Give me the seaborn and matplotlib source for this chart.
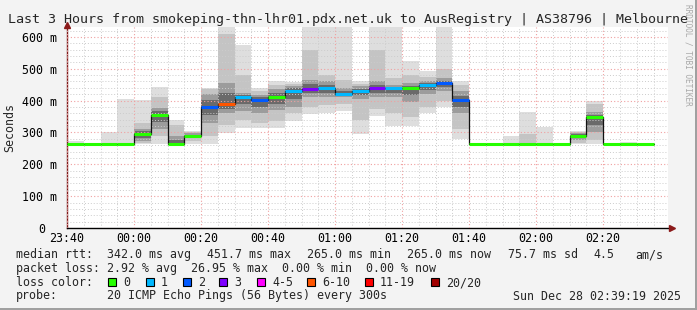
import matplotlib
matplotlib.use("Agg")
import matplotlib.pyplot as plt
import matplotlib.transforms as mtransforms
import seaborn as sns
import pandas as pd
from matplotlib.patches import Rectangle

# ---------------- data ----------------
# bin start, minutes after 23:40 (5-minute steps)
bin_start = [0, 5, 10, 15, 20, 25, 30, 35, 40, 45, 50, 55, 60, 65, 70, 75, 80, 85,
             90, 95, 100, 105, 110, 115, 120, 125, 130, 135, 140, 145, 150, 155,
             160, 165, 170]
median_ms = [265, 265, 265, 265, 295, 355, 265, 290, 381, 390, 410, 402, 410, 431,
             437, 438, 421, 429, 439, 438, 438, 448, 455, 401, 265, 265, 265, 265,
             265, 265, 290, 347, 265, 265, 265]
smoke_min = [265, 265, 265, 265, 265, 265, 265, 265, 265, 298, 314, 314, 315, 336,
             358, 361, 366, 296, 353, 320, 319, 361, 381, 280, 265, 265, 265, 265,
             265, 265, 265, 265, 265, 265, 265]
smoke_p10 = [265, 265, 265, 265, 267, 290, 265, 272, 290, 322, 340, 330, 335, 360,
             380, 385, 390, 340, 375, 360, 350, 380, 400, 310, 265, 265, 265, 265,
             265, 265, 268, 275, 265, 265, 265]
smoke_p25 = [265, 265, 265, 265, 272, 310, 265, 282, 330, 360, 368, 360, 370, 380,
             410, 410, 410, 405, 410, 410, 395, 420, 430, 360, 265, 265, 265, 265,
             265, 265, 275, 300, 265, 265, 265]
smoke_p75 = [265, 265, 265, 265, 312, 378, 290, 297, 420, 455, 425, 418, 435, 445,
             465, 460, 440, 445, 460, 450, 455, 462, 470, 430, 265, 265, 265, 266,
             265, 265, 298, 365, 265, 265, 265]
smoke_p90 = [266, 265, 266, 268, 330, 412, 322, 302, 435, 610, 480, 430, 450, 452,
             560, 480, 465, 452, 560, 470, 480, 475, 500, 450, 265, 265, 266, 296,
             268, 265, 302, 390, 265, 266, 265]
smoke_max = [274, 265, 300, 406, 402, 442, 340, 305, 440, 640, 573, 439, 460, 458,
             640, 640, 640, 460, 640, 640, 523, 494, 640, 463, 265, 265, 289, 363,
             316, 265, 305, 399, 265, 270, 265]
lost_pings = [0, 0, 0, 0, 0, 0, 0, 0, 2, 7, 1, 2, 0, 1, 3, 1, 1, 1, 3, 1, 0, 1, 2, 2,
              0, 0, 0, 0, 0, 0, 0, 0, 0, 0, 0]

tick_pos = [0, 20, 40, 60, 80, 100, 120, 140, 160]
tick_labels = ["23:40", "00:00", "00:20", "00:40", "01:00", "01:20", "01:40",
               "02:00", "02:20"]
y_ticks = [0, 100, 200, 300, 400, 500, 600]
y_labels = ["0", "100 m", "200 m", "300 m", "400 m", "500 m", "600 m"]

loss_names = ["0", "1", "2", "3", "4-5", "6-10", "11-19", "20/20"]
loss_colors = ["#26ff00", "#00b8ff", "#0059ff", "#7e00ff", "#ff00ff", "#ff5500",
               "#ff0000", "#a10000"]

title = ("Last 3 Hours from smokeping-thn-lhr01.pdx.net.uk to AusRegistry | "
         "AS38796 | Melbourne")
rtt_items = ["342.0 ms avg", "451.7 ms max", "265.0 ms min", "265.0 ms now",
             "75.7 ms sd", "4.5", "am/s"]
loss_line = "2.92 % avg  26.95 % max  0.00 % min  0.00 % now"
probe_line = "20 ICMP Echo Pings (56 Bytes) every 300s"
stamp = "Sun Dec 28 02:39:19 2025"

# ---------------- setup ----------------
sns.set_style("white")
plt.rcParams["font.family"] = ["DejaVu Sans Mono"]

W, H = 697, 310
fig = plt.figure(figsize=(W / 100, H / 100), dpi=100, facecolor="#f3f3f3")
L, R, T, B = 67, 668, 27, 228
ax = fig.add_axes([L / W, 1 - B / H, (R - L) / W, (B - T) / H])
ax.set_facecolor("white")

df = pd.DataFrame({"start": bin_start, "median": median_ms, "mn": smoke_min,
                   "p10": smoke_p10, "p25": smoke_p25, "p75": smoke_p75,
                   "p90": smoke_p90, "mx": smoke_max, "lost": lost_pings})


def loss_idx(n):
    if n <= 3:
        return n
    if n <= 5:
        return 4
    if n <= 10:
        return 5
    if n <= 19:
        return 6
    return 7


df["color"] = [loss_colors[loss_idx(n)] for n in df["lost"]]
df["inner_lo"] = (df["p25"] + df["median"]) / 2
df["inner_hi"] = (df["p75"] + df["median"]) / 2

# smoke layers
layers = [("mn", "mx", "#dedede"), ("p10", "p90", "#c4c4c4"),
          ("p25", "p75", "#9c9c9c"), ("inner_lo", "inner_hi", "#6a6a6a")]
for lo, hi, col in layers:
    ax.bar(df["start"], df[hi] - df[lo], bottom=df[lo], width=5, align="edge",
           color=col, linewidth=0, zorder=1)

# median step line
step = pd.DataFrame({"t": bin_start + [bin_start[-1] + 5],
                     "v": median_ms + [median_ms[-1]]})
sns.lineplot(data=step, x="t", y="v", drawstyle="steps-post", color="#111111",
             lw=0.9, ax=ax, estimator=None, sort=False, zorder=4)
ax.hlines(df["median"], df["start"], df["start"] + 5, colors=df["color"], lw=2.2,
          zorder=5)

# axes
ax.set_xlim(0, 179.32)
ax.set_ylim(0, 631)
ax.set_xticks(tick_pos)
ax.set_xticklabels(tick_labels)
ax.set_xticks(list(range(0, 180, 5)), minor=True)
ax.set_yticks(y_ticks)
ax.set_yticklabels(y_labels)
ax.set_yticks(list(range(0, 631, 20)), minor=True)
ax.set_xlabel("")
ax.set_ylabel("")

ax.set_axisbelow(False)
ax.grid(which="minor", color="#cccccc", ls=(0, (1, 2)), lw=0.7)
ax.grid(which="major", color="#f0a0a0", ls=(0, (1, 2)), lw=0.8)

ax.tick_params(axis="both", which="major", labelsize=8.4, colors="black")
ax.tick_params(axis="x", which="major", length=3, color="#e06060", pad=-0.4)
ax.tick_params(axis="x", which="minor", length=2, color="#bbbbbb")
ax.tick_params(axis="y", which="major", length=3, color="#e06060", pad=4)
ax.tick_params(axis="y", which="minor", length=0)

# the "0" label sits left, aligned as if it carried the unit suffix
zero_lbl = ax.get_yticklabels()[0]
zero_lbl.set_transform(zero_lbl.get_transform() +
                       mtransforms.ScaledTranslation(-0.12, 0, fig.dpi_scale_trans))

for s in ["top", "right"]:
    ax.spines[s].set_visible(False)
ax.spines["left"].set_color("#7a1a1a")
ax.spines["left"].set_linewidth(1)
ax.spines["bottom"].set_color("black")
ax.spines["bottom"].set_linewidth(1)
ax.plot([1.0 + 4 / (R - L)], [0], marker=">", color="#8b1a1a", ms=5,
        transform=ax.transAxes, clip_on=False, zorder=6)
ax.plot([0], [1.0 + 2 / (B - T)], marker="^", color="#8b1a1a", ms=5,
        transform=ax.transAxes, clip_on=False, zorder=6)

# ---------------- texts ----------------
def ftext(x, y, s, **kw):
    kw.setdefault("fontsize", 8.4)
    kw.setdefault("va", "baseline")
    fig.text(x / W, 1 - y / H, s, **kw)


ftext(8, 22.7, title, fontsize=9.6)
ftext(10, (T + B) / 2, "Seconds", rotation=90, ha="center", va="center")
ftext(688, 55, "RRDTOOL / TOBI OETIKER", rotation=270, ha="center", va="center",
      fontsize=5.6, color="#a8a8a8")

ftext(16, 258, "median rtt:")
for x, s in zip([107, 207, 307, 407, 508, 593, 635], rtt_items):
    ftext(x, 258, s)

ftext(16, 272, "packet loss:")
ftext(107, 272, loss_line)

ftext(16, 286, "loss color:")
box_x = [108, 146, 183, 219, 257, 307, 365, 431]
for bx, name, col in zip(box_x, loss_names, loss_colors):
    fig.add_artist(Rectangle((bx / W, 1 - 285.5 / H), 8 / W, 8 / H,
                             transform=fig.transFigure, facecolor=col,
                             edgecolor="black", lw=0.8))
    ftext(bx + 15, 286, name)

ftext(16, 299.5, "probe:")
ftext(107, 299.5, probe_line)
ftext(513, 299.5, stamp)

# frame shadow
fig.add_artist(Rectangle((0, 0), 1, 2.5 / H, transform=fig.transFigure,
                         facecolor="#a0a0a0", lw=0))
fig.add_artist(Rectangle((1 - 2.5 / W, 0), 2.5 / W, 1, transform=fig.transFigure,
                         facecolor="#a0a0a0", lw=0))

fig.savefig("out.png", dpi=100, facecolor=fig.get_facecolor())
